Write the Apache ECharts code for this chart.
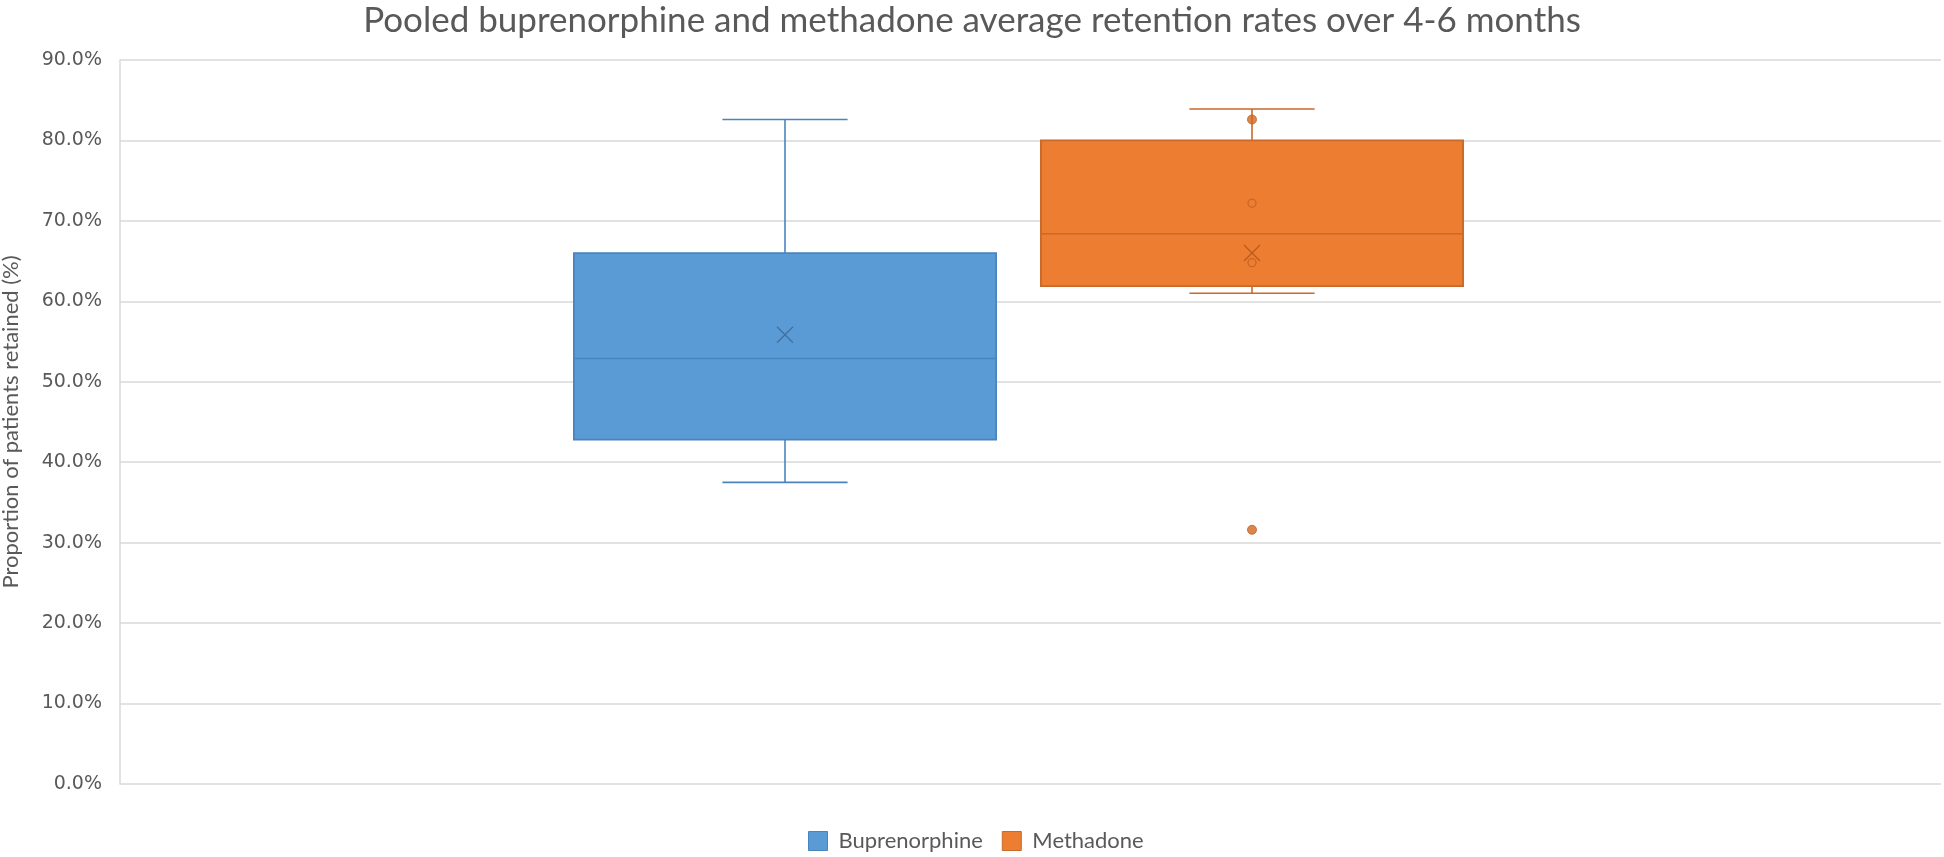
<!DOCTYPE html>
<html><head><meta charset="utf-8">
<script src="https://cdn.jsdelivr.net/npm/echarts@6/dist/echarts.min.js"></script>
<style>html,body{margin:0;padding:0;background:#fff}#c{width:1944px;height:857px}</style>
</head><body><div id="c"></div>
<script>
const categories = ['Buprenorphine', 'Methadone'];
// [lower whisker, Q1, median, Q3, upper whisker] in %
const buprenorphineBox = [37.5, 42.8, 52.9, 66.0, 82.6];
const methadoneBox = [61.0, 61.9, 68.4, 80.0, 83.9];
const buprenorphineMean = [55.85];
const methadoneMean = [66.0];
const methadoneInnerPoints = [72.2, 64.8];
const methadoneOutliers = [82.6, 31.6];
const yMin = 0, yMax = 90, yStep = 10;

const fills = ['#5B9BD5', '#ED7D31'];
const strokes = ['#4A84BE', '#C9692B'];
const textColor = '#595959';
const calibriLike = 'Lato';

const chart = echarts.init(document.getElementById('c'), null, {renderer: 'canvas'});
const xPath = 'path://M0,0L10,10M10,0L0,10';

chart.setOption({
  animation: false,
  backgroundColor: '#fff',
  title: {
    text: 'Pooled buprenorphine and methadone average retention rates over 4-6 months',
    left: 'center', top: -2,
    textStyle: {fontFamily: calibriLike, fontSize: 35, fontWeight: 'normal', color: textColor}
  },
  legend: {
    left: 803, top: 825, icon: 'rect', itemWidth: 19, itemHeight: 19, itemGap: 19,
    textStyle: {fontFamily: calibriLike, fontSize: 22, color: textColor, padding: [0, 0, 0, 6]},
    data: [
      {name: 'Buprenorphine', itemStyle: {color: fills[0], borderColor: strokes[0], borderWidth: 1}},
      {name: 'Methadone', itemStyle: {color: fills[1], borderColor: strokes[1], borderWidth: 1}}
    ]
  },
  grid: [
    {left: 120, right: 3, top: 60, bottom: 73, containLabel: false, outerBoundsMode: 'none'},
    {left: 551.5, right: 458.5, top: 60, bottom: 73, containLabel: false, outerBoundsMode: 'none'}
  ],
  xAxis: [
    {type: 'category', gridIndex: 0, data: [''], show: false},
    {type: 'category', gridIndex: 1, data: categories, show: false}
  ],
  yAxis: [
    {
      type: 'value', gridIndex: 0, min: yMin, max: yMax, interval: yStep,
      name: 'Proportion of patients retained (%)', nameLocation: 'middle', nameRotate: 90, nameGap: 98,
      nameTextStyle: {fontFamily: calibriLike, fontSize: 22, color: textColor},
      axisLine: {show: true, lineStyle: {color: '#D9D9D9', width: 1.5}},
      axisTick: {show: false},
      axisLabel: {margin: 18, fontFamily: 'DejaVu Sans', fontSize: 19, color: textColor,
        formatter: v => v.toFixed(1) + '%'},
      splitLine: {show: true, lineStyle: {color: '#D9D9D9', width: 1.5}}
    },
    {type: 'value', gridIndex: 1, min: yMin, max: yMax, interval: yStep, show: false, splitLine: {show: false}}
  ],
  series: [
    {
      name: 'Boxes', type: 'custom', xAxisIndex: 1, yAxisIndex: 1, z: 2,
      encode: {x: 0, y: [1, 2, 3, 4, 5]},
      data: [[0].concat(buprenorphineBox), [1].concat(methadoneBox)],
      renderItem: function (params, api) {
        const i = api.value(0);
        const v = [1, 2, 3, 4, 5].map(k => api.value(k));
        const band = api.size([1, 0])[0];
        const boxW = band * 0.904, capW = band * 0.268;
        const cx = api.coord([i, v[2]])[0];
        const y = val => api.coord([i, val])[1];
        const lw = {stroke: strokes[i], lineWidth: 1.6};
        return {
          type: 'group',
          children: [
            {type: 'line', shape: {x1: cx, y1: y(v[3]), x2: cx, y2: y(v[4])}, style: lw},
            {type: 'line', shape: {x1: cx, y1: y(v[0]), x2: cx, y2: y(v[1])}, style: lw},
            {type: 'line', shape: {x1: cx - capW / 2, y1: y(v[4]), x2: cx + capW / 2, y2: y(v[4])}, style: lw},
            {type: 'line', shape: {x1: cx - capW / 2, y1: y(v[0]), x2: cx + capW / 2, y2: y(v[0])}, style: lw},
            {type: 'rect', shape: {x: cx - boxW / 2, y: y(v[3]), width: boxW, height: y(v[1]) - y(v[3])},
              style: {fill: fills[i], stroke: strokes[i], lineWidth: 1.8}},
            {type: 'line', shape: {x1: cx - boxW / 2, y1: y(v[2]), x2: cx + boxW / 2, y2: y(v[2])}, style: lw}
          ]
        };
      }
    },
    {
      name: 'Buprenorphine', type: 'scatter', xAxisIndex: 1, yAxisIndex: 1, z: 5,
      symbol: xPath, symbolSize: 16,
      itemStyle: {color: 'none', borderColor: '#41709F', borderWidth: 1.3, opacity: 1},
      data: buprenorphineMean.map(v => [0, v])
    },
    {
      name: 'Methadone', type: 'scatter', xAxisIndex: 1, yAxisIndex: 1, z: 5,
      symbol: xPath, symbolSize: 16,
      itemStyle: {color: 'none', borderColor: '#B85B20', borderWidth: 1.3, opacity: 1},
      data: methadoneMean.map(v => [1, v])
    },
    {
      name: 'Methadone inner points', type: 'scatter', xAxisIndex: 1, yAxisIndex: 1, z: 5,
      symbol: 'circle', symbolSize: 8,
      itemStyle: {color: 'none', borderColor: '#C0601F', borderWidth: 1.3},
      data: methadoneInnerPoints.map(v => [1, v])
    },
    {
      name: 'Methadone outliers', type: 'scatter', xAxisIndex: 1, yAxisIndex: 1, z: 5,
      symbol: 'circle', symbolSize: 9,
      itemStyle: {color: '#D2681F', borderColor: '#C0601F', borderWidth: 1},
      data: methadoneOutliers.map(v => [1, v])
    }
  ]
});
</script>
</body></html>
